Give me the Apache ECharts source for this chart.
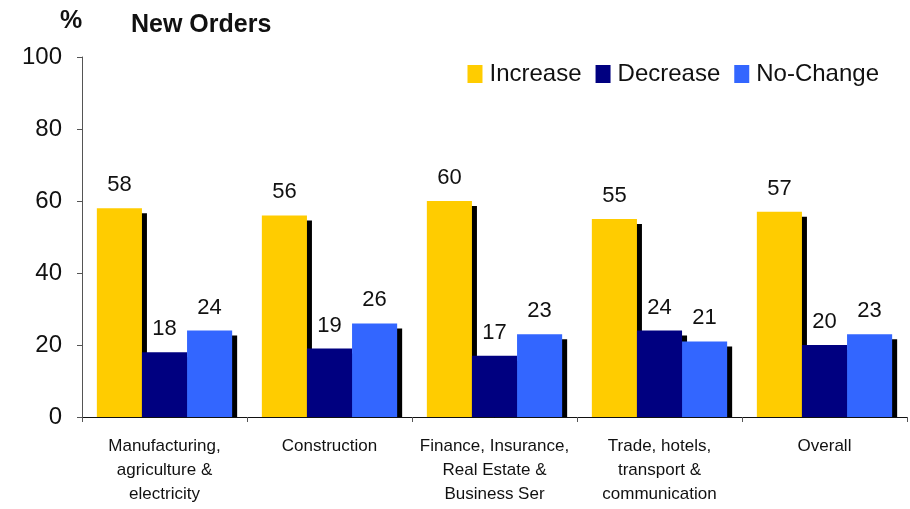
<!DOCTYPE html>
<html>
<head>
<meta charset="utf-8">
<script src="https://cdn.jsdelivr.net/npm/echarts@6/dist/echarts.min.js"></script>
<style>
  html, body { margin: 0; padding: 0; background: #fff; }
  #main { width: 910px; height: 509px; }
</style>
</head>
<body>
<div id="main"></div>
<script>
var categories = [
  'Manufacturing,\nagriculture &\nelectricity',
  'Construction',
  'Finance, Insurance,\nReal Estate &\nBusiness Ser',
  'Trade, hotels,\ntransport &\ncommunication',
  'Overall'
];
var increase = [58, 56, 60, 55, 57];
var decrease = [18, 19, 17, 24, 20];
var noChange = [24, 26, 23, 21, 23];

var chart = echarts.init(document.getElementById('main'));

function barSeries(name, data, color) {
  return {
    name: name,
    type: 'bar',
    z: 2,
    data: data,
    barGap: '0%',
    barCategoryGap: '18%',
    itemStyle: {
      color: color,
      shadowColor: '#000',
      shadowBlur: 0,
      shadowOffsetX: 5,
      shadowOffsetY: 5
    },
    label: {
      show: true,
      position: 'top',
      distance: 12,
      fontFamily: 'Liberation Sans',
      fontSize: 22,
      color: '#111'
    }
  };
}

chart.setOption({
  animation: false,
  title: [
    { text: '%', left: 55, top: 4, textStyle: { fontFamily: 'Liberation Sans', fontSize: 25, fontWeight: 'bold', color: '#111' } },
    { text: 'New Orders', left: 126, top: 8, textStyle: { fontFamily: 'Liberation Sans', fontSize: 25, fontWeight: 'bold', color: '#111' } }
  ],
  legend: {
    top: 57,
    right: 26,
    itemWidth: 15,
    itemHeight: 18,
    itemGap: 14,
    icon: 'rect',
    textStyle: { fontFamily: 'Liberation Sans', fontSize: 24, color: '#111', padding: [0, 0, 0, 2] },
    data: ['Increase', 'Decrease', 'No-Change']
  },
  // white strip hides the part of the drop shadows that falls under the x axis
  graphic: [{
    type: 'rect',
    z: 5,
    shape: { x: 82, y: 418, width: 828, height: 7 },
    style: { fill: '#fff' }
  }],
  grid: { left: 82, right: 3, top: 57, bottom: 92, containLabel: false },
  xAxis: {
    type: 'category',
    z: 10,
    data: categories,
    axisLine: { lineStyle: { color: '#111', width: 1 } },
    axisTick: { show: true, length: 5, lineStyle: { color: '#555' } },
    axisLabel: {
      margin: 17,
      interval: 0,
      fontFamily: 'Liberation Sans',
      fontSize: 17,
      lineHeight: 24,
      color: '#111'
    }
  },
  yAxis: {
    type: 'value',
    z: 10,
    min: 0,
    max: 100,
    interval: 20,
    splitLine: { show: false },
    axisLine: { show: true, lineStyle: { color: '#555' } },
    axisTick: { show: true, length: 5, lineStyle: { color: '#555' } },
    axisLabel: { margin: 20, fontFamily: 'Liberation Sans', fontSize: 24, color: '#111' }
  },
  series: [
    barSeries('Increase', increase, '#FFCC00'),
    barSeries('Decrease', decrease, '#000080'),
    barSeries('No-Change', noChange, '#3366FF')
  ]
});
</script>
</body>
</html>
